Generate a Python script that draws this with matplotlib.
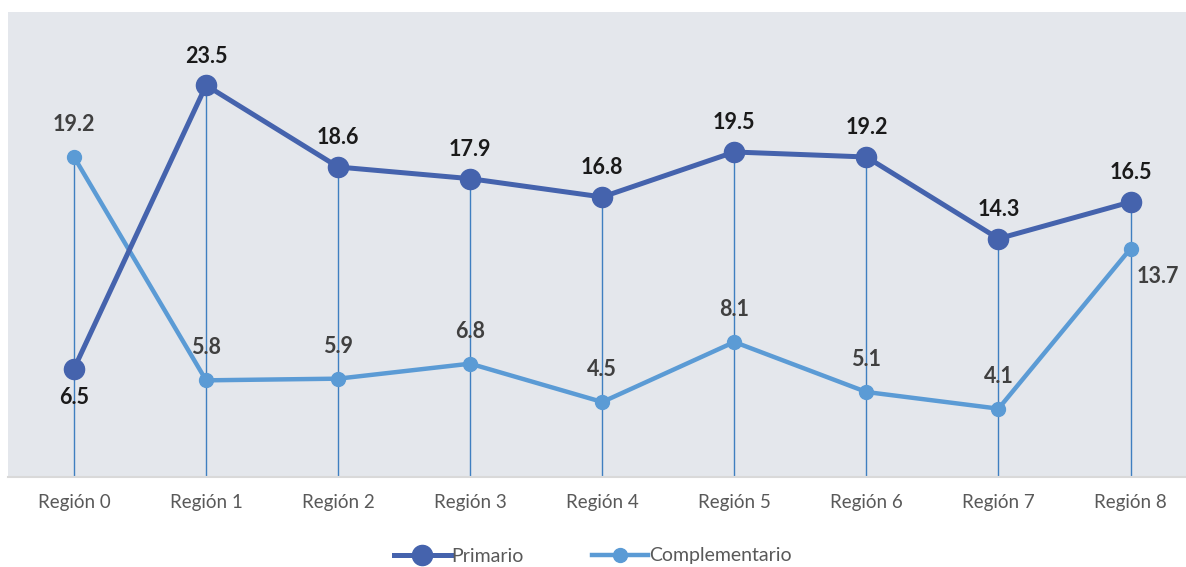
import matplotlib.pyplot as plt
import numpy as np

# Data
regiones = ['Región 0', 'Región 1', 'Región 2', 'Región 3', 'Región 4',
            'Región 5', 'Región 6', 'Región 7', 'Región 8']
primario = [6.5, 23.5, 18.6, 17.9, 16.8, 19.5, 19.2, 14.3, 16.5]
complementario = [19.2, 5.8, 5.9, 6.8, 4.5, 8.1, 5.1, 4.1, 13.7]

plt.rcParams['font.family'] = ['Lato', 'DejaVu Sans']

fig = plt.figure(figsize=(11.86, 5.67), dpi=100)
ax = fig.add_axes([8 / 1186, 1 - 477 / 567, 1 - 8 / 1186, (477 - 12) / 567])
ax.set_facecolor('#e4e7ec')

x = np.arange(len(regiones))

# drop lines from the highest point of each category to the axis
tops = np.maximum(primario, complementario)
ax.vlines(x, 0, tops, color='#3f7fc0', linewidth=1.0, zorder=1)

c_prim = '#4563ad'
c_comp = '#5b9bd5'
ax.plot(x, complementario, color=c_comp, linewidth=3.2, marker='o', markersize=10,
        label='Complementario', zorder=2)
ax.plot(x, primario, color=c_prim, linewidth=3.6, marker='o', markersize=14.5,
        label='Primario', zorder=3)

# data labels
for i, v in enumerate(primario):
    dy = -21 if i == 0 else 21
    ax.annotate(f'{v}', (x[i], v), xytext=(0, dy), textcoords='offset points',
                ha='center', va='center', fontsize=15.5, fontweight='bold',
                color='#1a1a1a')
for i, v in enumerate(complementario):
    if i == 8:
        off = (20, -20)
    else:
        off = (0, 23.5)
    ax.annotate(f'{v}', (x[i], v), xytext=off, textcoords='offset points',
                ha='center', va='center', fontsize=15.5, fontweight='bold',
                color='#404040')

ax.set_xlim(-0.5, 8.42)
ax.set_ylim(0, 27.9)
ax.set_xticks(x)
ax.set_xticklabels(regiones, fontsize=13.5, color='#595959')
ax.tick_params(axis='x', length=0, pad=12)
ax.set_yticks([])
for s in ['top', 'right', 'left']:
    ax.spines[s].set_visible(False)
ax.spines['bottom'].set_color('#d9d9d9')
ax.spines['bottom'].set_linewidth(1.5)

handles, labels = ax.get_legend_handles_labels()
leg = fig.legend(handles[::-1], labels[::-1], loc='center', bbox_to_anchor=(0.5, 1 - 556 / 567),
                 ncol=2, frameon=False, fontsize=14, handlelength=2.9, handletextpad=0.05,
                 columnspacing=3.5)
for t in leg.get_texts():
    t.set_color('#595959')

fig.savefig('out.png', dpi=100)
